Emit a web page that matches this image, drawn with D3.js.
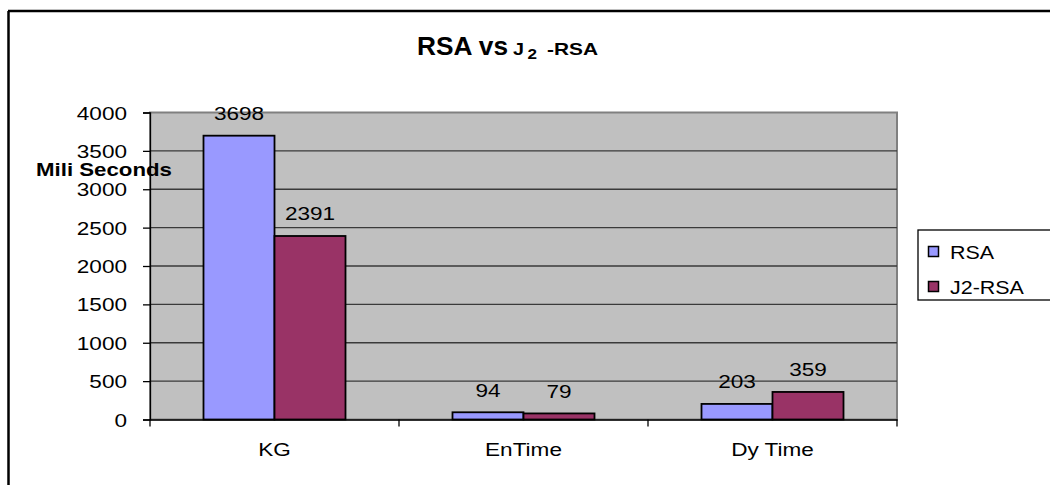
<!DOCTYPE html>
<html>
<head>
<meta charset="utf-8">
<script src="https://cdn.jsdelivr.net/npm/d3@7"></script>
<style>
  html, body { margin: 0; padding: 0; background: #fff; }
  svg text { font-family: "Liberation Sans", Arial, sans-serif; fill: #000; }
</style>
</head>
<body>
<svg id="chart" width="1050" height="485"></svg>
<script>
// Timing comparison data (milliseconds)
const categories = ["KG", "EnTime", "Dy Time"];
const seriesNames = ["RSA", "J2-RSA"];
const rsaValues = [3698, 94, 203];
const j2RsaValues = [2391, 79, 359];
const yTicks = [0, 500, 1000, 1500, 2000, 2500, 3000, 3500, 4000];
const seriesColors = ["#9999FF", "#993366"];

const svg = d3.select("#chart");
const W = 1050, H = 485;
const plot = { left: 150, right: 897, top: 112.5, bottom: 419.5 };
const SX = 1.22; // horizontal text stretch
const FS = 18.5; // base font size

function label(g, x, y, str, opts = {}) {
  return g.append("text")
    .attr("transform", `translate(${x},${y}) scale(${opts.sx || SX},1)`)
    .attr("text-anchor", opts.anchor || "middle")
    .style("font-size", (opts.size || FS) + "px")
    .style("font-weight", opts.bold ? "bold" : "normal")
    .text(str);
}

// Outer chart frame (left and top edges)
svg.append("line").attr("x1", 8.5).attr("x2", 8.5).attr("y1", 11).attr("y2", H)
  .attr("stroke", "#000").attr("stroke-width", 2.5);
svg.append("line").attr("x1", 8).attr("x2", W).attr("y1", 11).attr("y2", 11)
  .attr("stroke", "#000").attr("stroke-width", 2.5);

const x0 = d3.scaleBand().domain(categories).range([plot.left, plot.right]).padding(0);
const groupW = 142;
const x1 = d3.scaleBand().domain(seriesNames)
  .range([(x0.bandwidth() - groupW) / 2, (x0.bandwidth() + groupW) / 2]);
const y = d3.scaleLinear().domain([0, 4000]).range([plot.bottom, plot.top]);

// Plot area background
svg.append("rect")
  .attr("x", plot.left).attr("y", plot.top)
  .attr("width", plot.right - plot.left).attr("height", plot.bottom - plot.top)
  .attr("fill", "#C0C0C0").attr("stroke", "#808080").attr("stroke-width", 2);

// Horizontal gridlines
svg.append("g").selectAll("line").data(yTicks.filter(d => d > 0 && d < 4000)).join("line")
  .attr("x1", plot.left).attr("x2", plot.right)
  .attr("y1", d => y(d)).attr("y2", d => y(d))
  .attr("stroke", "#3a3a3a").attr("stroke-width", 1.3);

// Y axis
const yAxis = svg.append("g").attr("transform", `translate(${plot.left},0)`)
  .call(d3.axisLeft(y).tickValues(yTicks).tickSize(7));
yAxis.select(".domain").attr("stroke", "#000").attr("stroke-width", 1.3);
yAxis.selectAll(".tick line").attr("stroke", "#000").attr("stroke-width", 1.3);
yAxis.selectAll(".tick text").remove();
yAxis.selectAll(".tick").each(function (d) {
  label(d3.select(this), -23, 6.5, d, { anchor: "end" });
});

// X axis
const xAxis = svg.append("g").attr("transform", `translate(0,${plot.bottom})`)
  .call(d3.axisBottom(x0).tickSize(0));
xAxis.select(".domain").attr("stroke", "#000").attr("stroke-width", 1.5);
xAxis.selectAll(".tick text").remove();
xAxis.selectAll(".tick").each(function (d) {
  label(d3.select(this), 0, 36, d);
});
// boundary ticks between categories
const bounds = categories.map(c => x0(c)).concat([plot.right]);
svg.append("g").selectAll("line").data(bounds).join("line")
  .attr("x1", d => d).attr("x2", d => d)
  .attr("y1", plot.bottom).attr("y2", plot.bottom + 7)
  .attr("stroke", "#000").attr("stroke-width", 1.3);

// Bars
const rows = categories.map((c, i) => ({ cat: c, vals: [rsaValues[i], j2RsaValues[i]] }));
const groups = svg.append("g").selectAll("g").data(rows).join("g")
  .attr("transform", d => `translate(${x0(d.cat)},0)`);
groups.selectAll("rect").data(d => d.vals.map((v, k) => ({ name: seriesNames[k], v, k }))).join("rect")
  .attr("x", d => x1(d.name)).attr("width", x1.bandwidth())
  .attr("y", d => y(d.v)).attr("height", d => plot.bottom - y(d.v))
  .attr("fill", d => seriesColors[d.k])
  .attr("stroke", "#000").attr("stroke-width", 1.8);

// Value labels
groups.each(function (row) {
  const g = d3.select(this);
  row.vals.forEach((v, k) => {
    label(g, x1(seriesNames[k]) + x1.bandwidth() / 2, y(v) - 15.5, v);
  });
});

// Title: RSA vs J₂ -RSA
const tg = svg.append("g").style("font-weight", "bold");
tg.append("text").attr("x", 417).attr("y", 55).style("font-size", "25px")
  .attr("textLength", 91).attr("lengthAdjust", "spacingAndGlyphs").text("RSA vs");
tg.append("text").attr("x", 513).attr("y", 55).style("font-size", "17px")
  .attr("textLength", 11).attr("lengthAdjust", "spacingAndGlyphs").text("J");
tg.append("text").attr("x", 527.5).attr("y", 59).style("font-size", "15px")
  .attr("textLength", 9.5).attr("lengthAdjust", "spacingAndGlyphs").text("2");
tg.append("text").attr("x", 547).attr("y", 55).style("font-size", "17px")
  .attr("textLength", 51).attr("lengthAdjust", "spacingAndGlyphs").text("-RSA");

// Y axis title
svg.append("text").attr("x", 36).attr("y", 176)
  .style("font-size", "19px").style("font-weight", "bold")
  .attr("textLength", 136).attr("lengthAdjust", "spacingAndGlyphs").text("Mili Seconds");

// Legend
const lg = svg.append("g");
lg.append("rect").attr("x", 918).attr("y", 230).attr("width", 150).attr("height", 70)
  .attr("fill", "#fff").attr("stroke", "#000").attr("stroke-width", 1.3);
seriesNames.forEach((name, i) => {
  const cy = 251.5 + i * 35;
  lg.append("rect").attr("x", 928.5).attr("y", cy - 5).attr("width", 10).attr("height", 10)
    .attr("fill", seriesColors[i]).attr("stroke", "#000").attr("stroke-width", 1.5);
  label(lg, 950, cy + 7, name, { anchor: "start", sx: 1.16 });
});
</script>
</body>
</html>
